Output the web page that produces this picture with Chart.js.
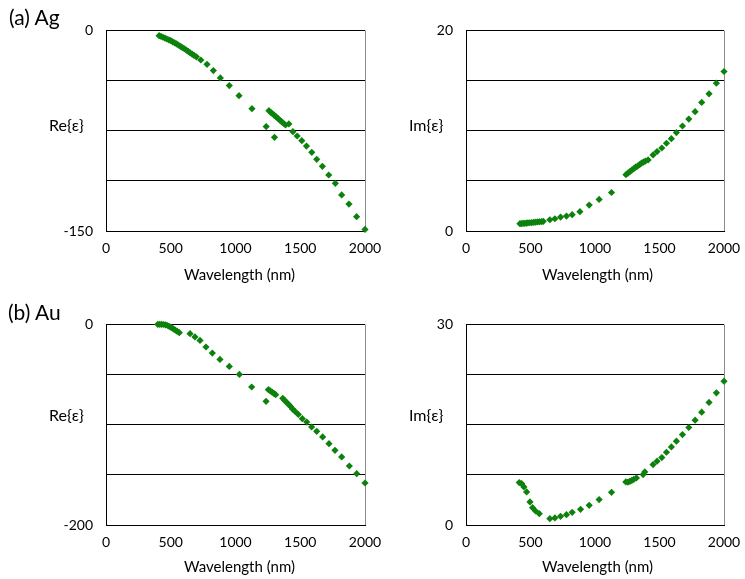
<!DOCTYPE html>
<html>
<head>
<meta charset="utf-8">
<script src="https://cdn.jsdelivr.net/npm/chart.js@4/dist/chart.umd.min.js"></script>
<style>
  html, body { margin: 0; padding: 0; background: #fff; }
  body { width: 745px; height: 579px; position: relative; overflow: hidden; font-family: Lato, "Open Sans", sans-serif; color: #000; }
  canvas { position: absolute; }
  .lbl { position: absolute; white-space: nowrap; line-height: 1; }
</style>
</head>
<body>
<canvas id="c1" width="400" height="290" style="left:0;top:0"></canvas>
<canvas id="c2" width="360" height="290" style="left:400px;top:0"></canvas>
<canvas id="c3" width="400" height="289" style="left:0;top:290px"></canvas>
<canvas id="c4" width="360" height="289" style="left:400px;top:290px"></canvas>

<div class="lbl" style="left:9px;top:6px;font-size:21px">(a) Ag</div>
<div class="lbl" style="left:8px;top:301px;font-size:21px">(b) Au</div>
<div class="lbl" style="left:49px;top:117px;font-size:16px">Re{ε}</div>
<div class="lbl" style="left:409px;top:117px;font-size:16px">Im{ε}</div>
<div class="lbl" style="left:49px;top:407px;font-size:16px">Re{ε}</div>
<div class="lbl" style="left:409px;top:407px;font-size:16px">Im{ε}</div>
<div class="lbl" style="left:184px;top:267px;font-size:15px">Wavelength (nm)</div>
<div class="lbl" style="left:542px;top:267px;font-size:15px">Wavelength (nm)</div>
<div class="lbl" style="left:184px;top:559px;font-size:15px">Wavelength (nm)</div>
<div class="lbl" style="left:542px;top:559px;font-size:15px">Wavelength (nm)</div>

<script>
// ---- Data ----
const xTicks = [0, 500, 1000, 1500, 2000];

const agReWl = [410,425,440,455,470,485,500,515,530,545,560,575,590,605,620,635,650,665,680,698,
  732,780,829,883,952,1027,1127,
  1237,1301,
  1258,1272,1286,1300,1314,1328,1342,1356,1370,1386,1412,
  1443,1476,1512,1548,1589,1627,1671,1720,1771,1820,1876,1935,2000];
const agReVal = [-4.2,-4.8,-5.4,-6.0,-6.7,-7.3,-8.0,-8.8,-9.6,-10.4,-11.3,-12.2,-13.1,-14.0,-15.0,-16.0,-17.0,-18.0,-19.0,-20.0,
  -22.4,-25.6,-30.3,-35.8,-41.5,-49.0,-58.7,
  -72.1,-80.1,
  -60.2,-61.4,-62.5,-63.7,-64.9,-66.0,-67.2,-68.4,-69.6,-70.9,-70.1,
  -75.9,-79.1,-82.6,-86.6,-91.3,-96.5,-101.7,-108.2,-114.4,-123.1,-129.9,-139.3,-148.8];

const agImWl = [418,430,442,455,468,480,495,510,525,540,555,570,585,599,
  650,689,733,779,823,883,955,1032,1128,
  1240,1255,1270,1285,1300,1315,1330,1345,1360,1375,1390,1412,
  1450,1481,1518,1554,1592,1631,1678,1727,1776,1827,1884,1941,2000];
const agImVal = [0.73,0.74,0.75,0.76,0.78,0.80,0.82,0.84,0.86,0.88,0.90,0.92,0.94,0.96,
  1.12,1.22,1.39,1.49,1.62,1.92,2.58,3.14,3.83,
  5.6,5.75,5.9,6.05,6.2,6.35,6.45,6.6,6.75,6.85,6.95,7.07,
  7.57,7.9,8.26,8.73,9.19,9.79,10.45,11.14,11.87,12.79,13.65,14.71,15.87];

const auReWl = [400,415,430,445,460,475,490,505,520,535,550,566,
  649,687,726,772,821,880,952,1030,1125,
  1236,
  1254,1268,1282,1296,1310,1365,1380,1395,1410,1425,1440,1460,1485,
  1516,1550,1588,1627,1673,1722,1768,1820,1879,1936,2000];
const auReVal = [-0.3,-0.3,-0.4,-0.5,-0.8,-1.5,-2.6,-3.6,-4.8,-6.0,-7.3,-8.6,
  -9.6,-12.9,-16.3,-22.9,-28.9,-35.2,-42.2,-50.2,-62.7,
  -76.9,
  -65.3,-66.5,-67.7,-69.0,-70.3,-74.0,-76.0,-78.0,-80.0,-82.0,-84.5,-87.0,-90.0,
  -94.2,-97.5,-102.5,-106.8,-112.4,-119.1,-125.7,-132.3,-141.3,-148.9,-158.2];

const auImWl = [413,431,449,470,496,516,539,568,
  650,689,733,779,823,888,955,1032,1128,
  1239,1255,1270,1285,1300,1321,1373,1386,
  1450,1481,1518,1554,1592,1631,1678,1727,1776,1827,1884,1941,2000];
const auImVal = [6.33,6.18,5.68,4.93,3.44,2.59,2.09,1.69,
  0.95,1.05,1.30,1.54,1.89,2.34,2.94,3.79,4.88,
  6.43,6.4,6.5,6.65,6.8,7.03,7.52,7.92,
  9.02,9.52,10.06,10.86,11.66,12.51,13.5,14.55,15.65,16.84,18.29,19.73,21.47];

// ---- Chart construction ----
const FONT = { family: 'Lato, "Open Sans", sans-serif', size: 14 };
const GREEN = '#0c820c';

function pts(xs, ys) { return xs.map((x, i) => ({ x: x, y: ys[i] })); }

const frame = {
  id: 'frame',
  beforeDatasetsDraw(chart) {
    const a = chart.chartArea, ctx = chart.ctx;
    ctx.save();
    ctx.strokeStyle = '#8c8c8c';
    ctx.lineWidth = 1;
    ctx.beginPath();
    ctx.moveTo(Math.round(a.right) + 0.5, Math.round(a.top) + 0.5);
    ctx.lineTo(Math.round(a.right) + 0.5, Math.round(a.bottom));
    ctx.stroke();
    ctx.restore();
  }
};

function makeChart(id, data, yMin, yMax, yStep, yWidth, padTop, padRight, xHeight) {
  new Chart(document.getElementById(id), {
    type: 'scatter',
    data: { datasets: [{
      data: data,
      pointStyle: 'rectRot',
      pointRadius: 3.6,
      pointBackgroundColor: GREEN,
      pointBorderColor: GREEN,
      pointBorderWidth: 0,
      showLine: false,
      clip: false
    }] },
    options: {
      responsive: false,
      animation: false,
      devicePixelRatio: 1,
      layout: { padding: { top: padTop, left: 0, right: padRight, bottom: 0 } },
      plugins: { legend: { display: false }, tooltip: { enabled: false } },
      scales: {
        x: {
          type: 'linear', min: 0, max: 2000,
          afterBuildTicks(s) { s.ticks = xTicks.map(v => ({ value: v })); },
          afterFit(s) { s.height = xHeight; },
          grid: { display: false, drawTicks: false },
          border: { display: true, color: '#000', width: 1 },
          ticks: { font: FONT, color: '#000', padding: 9, maxRotation: 0, autoSkip: false,
                   callback(v) { return String(v); } }
        },
        y: {
          type: 'linear', min: yMin, max: yMax,
          afterFit(s) { s.width = yWidth; },
          grid: { color: '#000', lineWidth: 1, drawTicks: false },
          border: { display: true, color: '#000', width: 1 },
          ticks: {
            stepSize: yStep, font: FONT, color: '#000', padding: 13, autoSkip: false,
            callback(v) { return (v === yMin || v === yMax) ? String(v) : ''; }
          }
        }
      }
    },
    plugins: [frame]
  });
}

makeChart('c1', pts(agReWl, agReVal), -150, 0, 37.5, 106, 30, 35, 59);
makeChart('c2', pts(agImWl, agImVal), 0, 20, 5, 66, 30, 36, 59);
makeChart('c3', pts(auReWl, auReVal), -200, 0, 50, 106, 34, 35, 54);
makeChart('c4', pts(auImWl, auImVal), 0, 30, 7.5, 66, 34, 36, 54);
</script>
</body>
</html>
